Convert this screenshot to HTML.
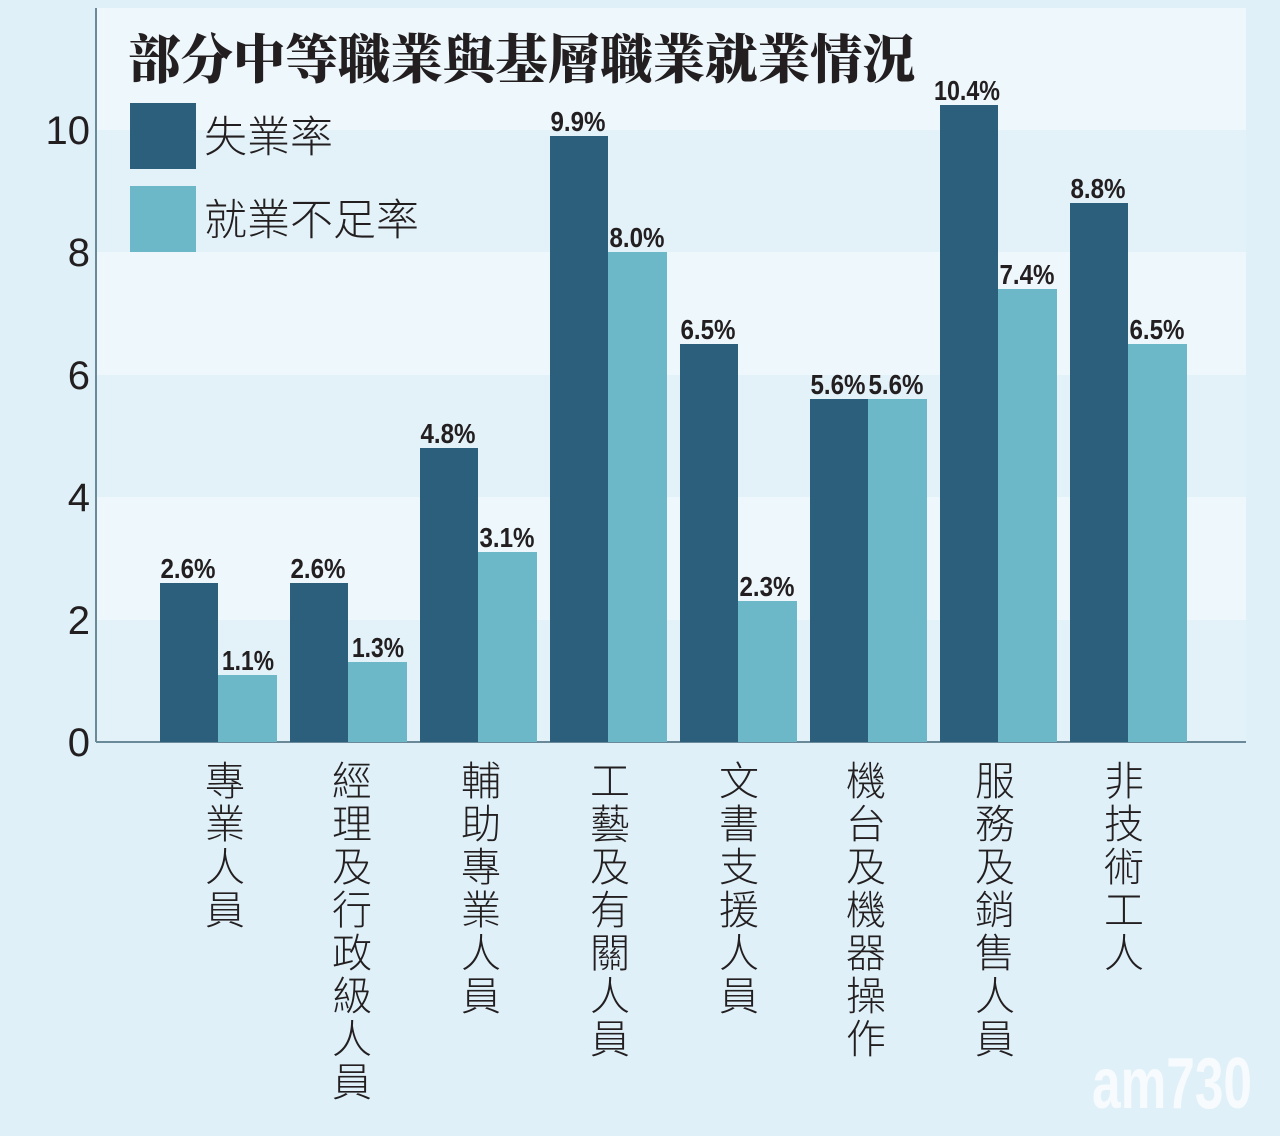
<!DOCTYPE html>
<html><head><meta charset="utf-8"><style>
html,body{margin:0;padding:0;background:#dff0f8;}
svg{display:block}
.v{font-family:"Liberation Sans",sans-serif;font-weight:bold;font-size:28px;fill:#231f20;text-anchor:middle}
.t{font-family:"Liberation Sans",sans-serif;font-size:40px;fill:#231f20;text-anchor:end}
.c{font-family:"Liberation Sans","Noto Sans CJK TC",sans-serif;font-size:40px;fill:#231f20;font-weight:300;text-anchor:middle}
</style></head><body>
<svg width="1280" height="1136" viewBox="0 0 1280 1136">
<rect width="1280" height="1136" fill="#dff0f8"/>
<rect x="96" y="8" width="1150" height="122" fill="#eef7fc"/>
<rect x="96" y="130" width="1150" height="122" fill="#e3f1f8"/>
<rect x="96" y="252" width="1150" height="123" fill="#eef7fc"/>
<rect x="96" y="375" width="1150" height="122" fill="#e3f1f8"/>
<rect x="96" y="497" width="1150" height="123" fill="#eef7fc"/>
<rect x="96" y="620" width="1150" height="122" fill="#e3f1f8"/>
<line x1="96" y1="8" x2="96" y2="742" stroke="#6a8a9a" stroke-width="2"/>
<line x1="96" y1="742" x2="1246" y2="742" stroke="#6a8a9a" stroke-width="2"/>
<g class="t">
<text x="90" y="756">0</text><text x="90" y="634">2</text><text x="90" y="511">4</text>
<text x="90" y="389">6</text><text x="90" y="266">8</text><text x="90" y="144">10</text>
</g>
<text x="128" y="78" textLength="787" lengthAdjust="spacingAndGlyphs" style="font-family:'Liberation Serif','Noto Serif CJK SC',serif;font-weight:900;font-size:53px;fill:#231f20">部分中等職業與基層職業就業情況</text>
<rect x="130" y="103" width="66" height="66" fill="#2b5f7b"/>
<rect x="130" y="186" width="66" height="66" fill="#6db8c8"/>
<text x="204" y="152" style="font-family:'Liberation Sans','Noto Sans CJK TC',sans-serif;font-weight:300;font-size:43px;fill:#231f20">失業率</text>
<text x="204" y="235" style="font-family:'Liberation Sans','Noto Sans CJK TC',sans-serif;font-weight:300;font-size:43px;fill:#231f20">就業不足率</text>
<g>
<rect x="160" y="583" width="58" height="159" fill="#2b5f7b"/><rect x="218" y="675" width="59" height="67" fill="#6db8c8"/>
<rect x="290" y="583" width="58" height="159" fill="#2b5f7b"/><rect x="348" y="662" width="59" height="80" fill="#6db8c8"/>
<rect x="420" y="448" width="58" height="294" fill="#2b5f7b"/><rect x="478" y="552" width="59" height="190" fill="#6db8c8"/>
<rect x="550" y="136" width="58" height="606" fill="#2b5f7b"/><rect x="608" y="252" width="59" height="490" fill="#6db8c8"/>
<rect x="680" y="344" width="58" height="398" fill="#2b5f7b"/><rect x="738" y="601" width="59" height="141" fill="#6db8c8"/>
<rect x="810" y="399" width="58" height="343" fill="#2b5f7b"/><rect x="868" y="399" width="59" height="343" fill="#6db8c8"/>
<rect x="940" y="105" width="58" height="637" fill="#2b5f7b"/><rect x="998" y="289" width="59" height="453" fill="#6db8c8"/>
<rect x="1070" y="203" width="58" height="539" fill="#2b5f7b"/><rect x="1128" y="344" width="59" height="398" fill="#6db8c8"/>
</g>
<g class="v">
<text x="188" y="578" textLength="55" lengthAdjust="spacingAndGlyphs">2.6%</text><text x="248" y="670" textLength="52" lengthAdjust="spacingAndGlyphs">1.1%</text>
<text x="318" y="578" textLength="55" lengthAdjust="spacingAndGlyphs">2.6%</text><text x="378" y="657" textLength="52" lengthAdjust="spacingAndGlyphs">1.3%</text>
<text x="448" y="443" textLength="55" lengthAdjust="spacingAndGlyphs">4.8%</text><text x="507" y="547" textLength="55" lengthAdjust="spacingAndGlyphs">3.1%</text>
<text x="578" y="131" textLength="55" lengthAdjust="spacingAndGlyphs">9.9%</text><text x="637" y="247" textLength="55" lengthAdjust="spacingAndGlyphs">8.0%</text>
<text x="708" y="339" textLength="55" lengthAdjust="spacingAndGlyphs">6.5%</text><text x="767" y="596" textLength="55" lengthAdjust="spacingAndGlyphs">2.3%</text>
<text x="838" y="394" textLength="55" lengthAdjust="spacingAndGlyphs">5.6%</text><text x="896" y="394" textLength="55" lengthAdjust="spacingAndGlyphs">5.6%</text>
<text x="967" y="100" textLength="66" lengthAdjust="spacingAndGlyphs">10.4%</text><text x="1027" y="284" textLength="55" lengthAdjust="spacingAndGlyphs">7.4%</text>
<text x="1098" y="198" textLength="55" lengthAdjust="spacingAndGlyphs">8.8%</text><text x="1157" y="339" textLength="55" lengthAdjust="spacingAndGlyphs">6.5%</text>
</g>
<g class="c">
<text x="225" y="795">專</text><text x="225" y="838">業</text><text x="225" y="881">人</text><text x="225" y="924">員</text>
<text x="352" y="795">經</text><text x="352" y="838">理</text><text x="352" y="881">及</text><text x="352" y="924">行</text><text x="352" y="967">政</text><text x="352" y="1010">級</text><text x="352" y="1053">人</text><text x="352" y="1096">員</text>
<text x="481" y="795">輔</text><text x="481" y="838">助</text><text x="481" y="881">專</text><text x="481" y="924">業</text><text x="481" y="967">人</text><text x="481" y="1010">員</text>
<text x="610" y="795">工</text><text x="610" y="838">藝</text><text x="610" y="881">及</text><text x="610" y="924">有</text><text x="610" y="967">關</text><text x="610" y="1010">人</text><text x="610" y="1053">員</text>
<text x="739" y="795">文</text><text x="739" y="838">書</text><text x="739" y="881">支</text><text x="739" y="924">援</text><text x="739" y="967">人</text><text x="739" y="1010">員</text>
<text x="866" y="795">機</text><text x="866" y="838">台</text><text x="866" y="881">及</text><text x="866" y="924">機</text><text x="866" y="967">器</text><text x="866" y="1010">操</text><text x="866" y="1053">作</text>
<text x="995" y="795">服</text><text x="995" y="838">務</text><text x="995" y="881">及</text><text x="995" y="924">銷</text><text x="995" y="967">售</text><text x="995" y="1010">人</text><text x="995" y="1053">員</text>
<text x="1124" y="795">非</text><text x="1124" y="838">技</text><text x="1124" y="881">術</text><text x="1124" y="924">工</text><text x="1124" y="967">人</text>
</g>
<text x="1092" y="1108" textLength="160" lengthAdjust="spacingAndGlyphs" style="font-family:'Liberation Sans',sans-serif;font-weight:bold;font-size:72px;fill:#f7fbfd">am730</text>
</svg>
</body></html>
